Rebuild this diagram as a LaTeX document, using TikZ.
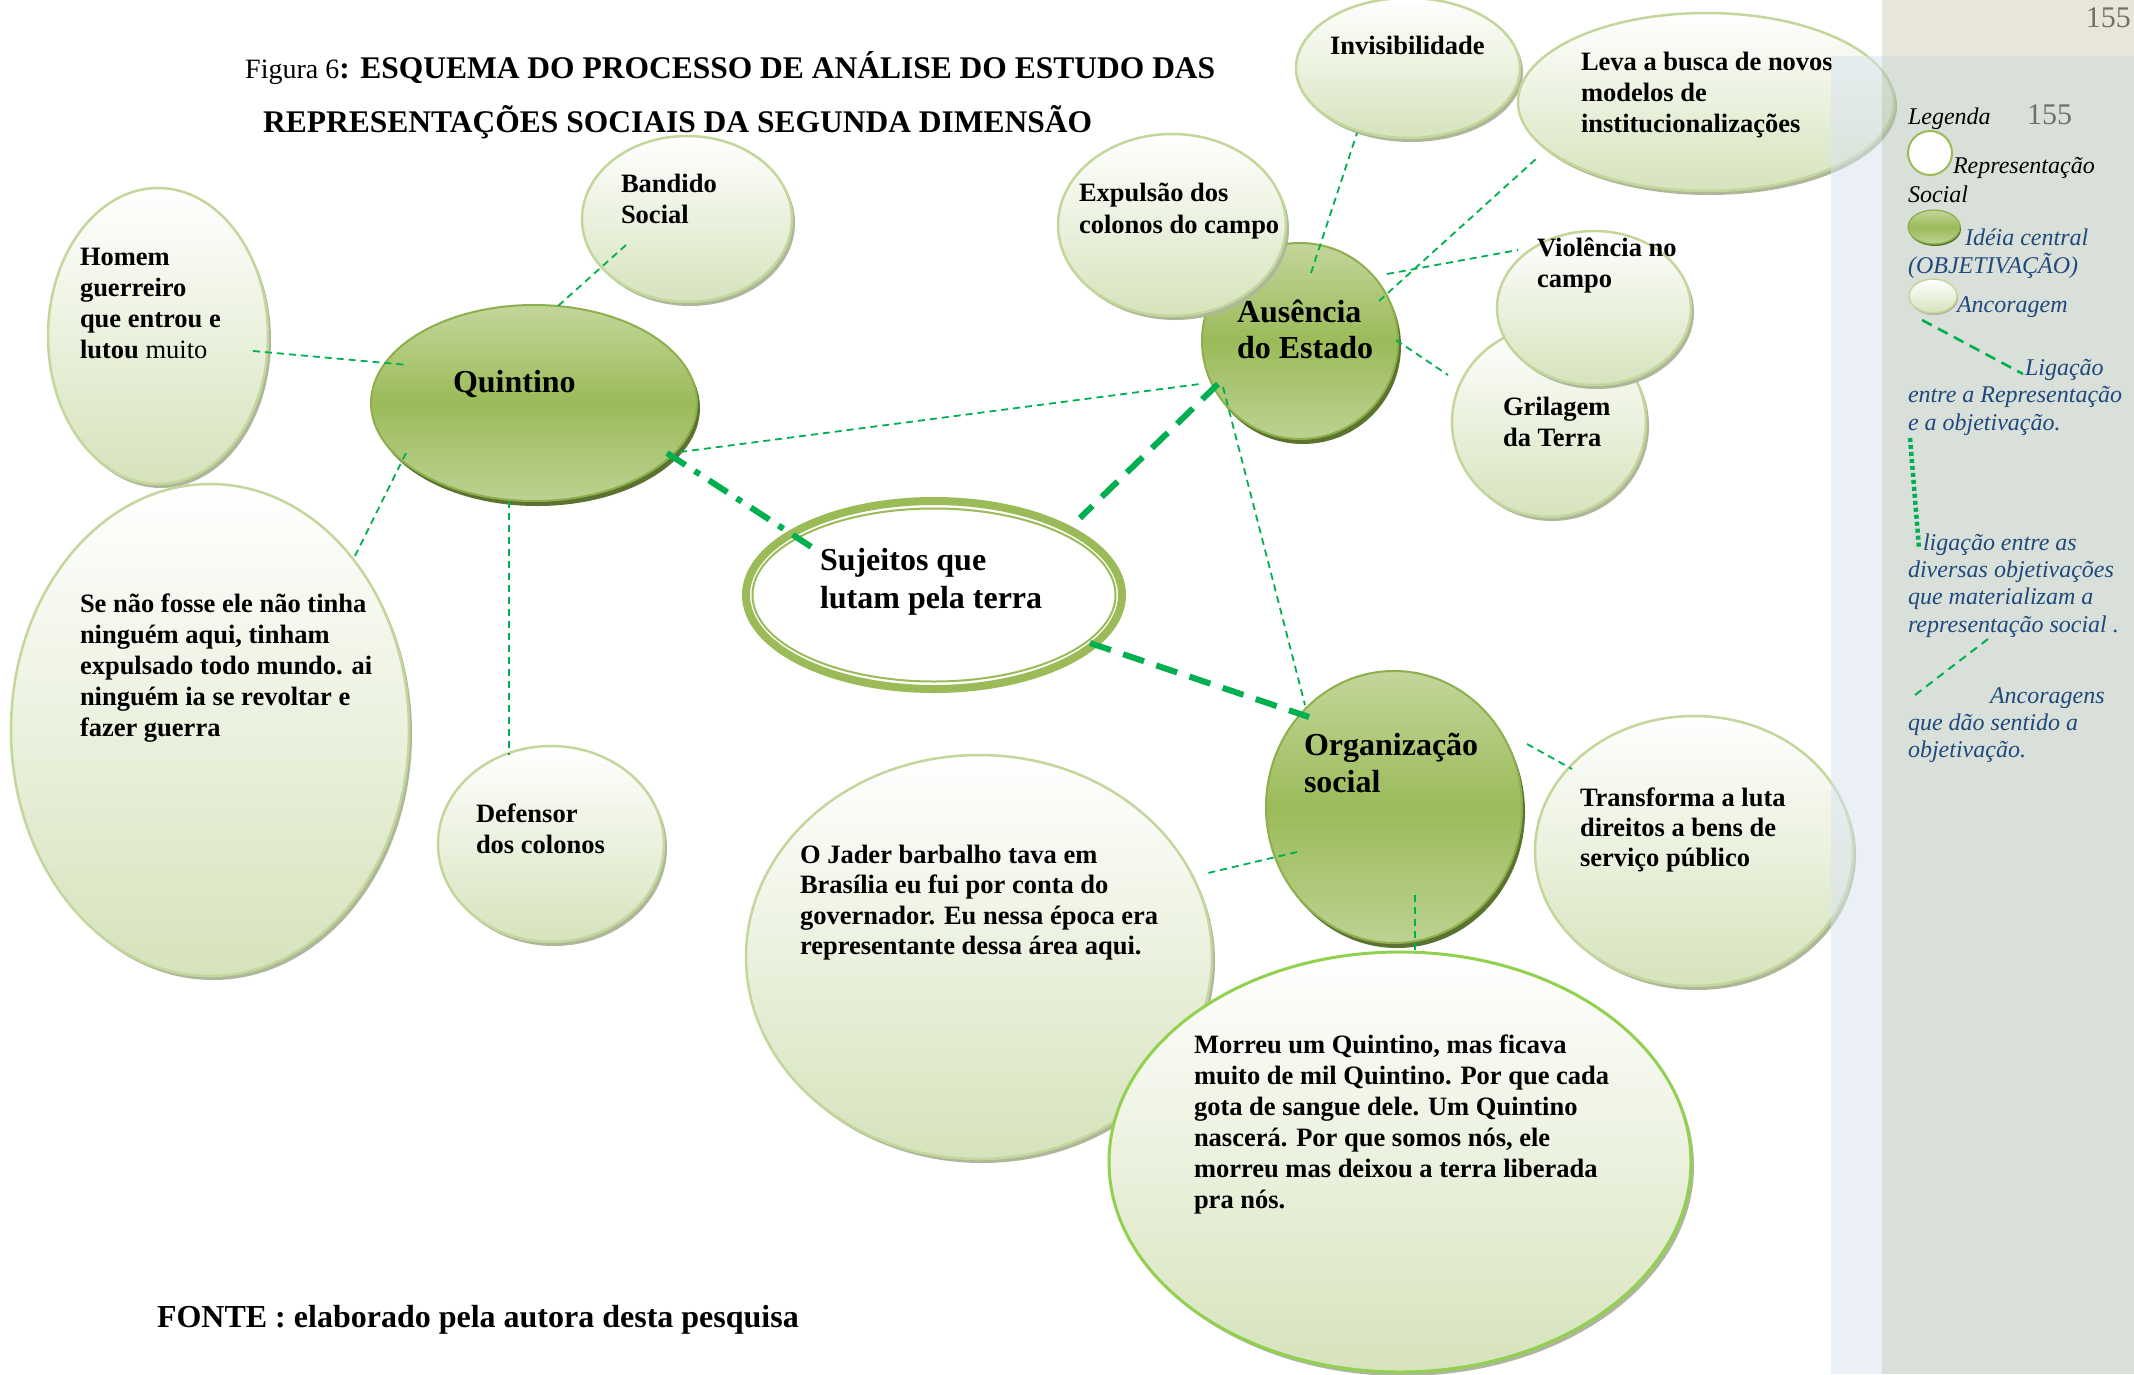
\documentclass[tikz,border=0pt]{standalone}
\usepackage{fontspec}
\setmainfont{Liberation Serif}
\usetikzlibrary{shapes.geometric}

\definecolor{lnk}{HTML}{00B050}
\definecolor{ancBot}{HTML}{D6E3BC}
\definecolor{ancLine}{HTML}{C3D69B}
\definecolor{ancShadow}{HTML}{AEB79A}
\definecolor{objTop}{HTML}{C3D69B}
\definecolor{objMid}{HTML}{9BBB59}
\definecolor{objBot}{HTML}{BCD292}
\definecolor{objLine}{HTML}{8DAF4C}
\definecolor{objShadow}{HTML}{5B7330}
\definecolor{morLine}{HTML}{92D050}
\definecolor{legBlue}{HTML}{1F497D}
\definecolor{pgGrey}{HTML}{707068}
\definecolor{beige}{HTML}{E8E6DA}
\definecolor{stripBlue}{HTML}{D9E3F1}
\definecolor{panelGrey}{HTML}{B5C1B5}

\newcommand\stk[2]{\vtop{\baselineskip=#1pt\lineskiplimit=-1000pt\lineskip=0pt\let\\\cr\halign{##\hfil\cr#2\crcr}}}

\begin{document}
\begin{tikzpicture}[x=1pt,y=-1pt,
  anc/.style={ellipse, inner sep=0pt, draw=ancLine, line width=2.5pt, top color=white, bottom color=ancBot,
    preaction={fill=ancShadow, transform canvas={shift={(3pt,-4pt)}}}},
  mor/.style={anc, draw=morLine, line width=3pt},
  obj/.style={ellipse, inner sep=0pt, draw=objLine, line width=2pt, top color=objTop, bottom color=objBot, middle color=objMid,
    preaction={fill=objShadow, transform canvas={shift={(3pt,-5pt)}}}},
  objsmall/.style={ellipse, inner sep=0pt, draw=objLine, line width=1.2pt, top color=objTop, bottom color=objBot, middle color=objMid,
    preaction={fill=objShadow, transform canvas={shift={(1pt,-2pt)}}}},
  ancsmall/.style={ellipse, inner sep=0pt, draw=ancLine, line width=1.5pt, top color=white, bottom color=ancBot,
    preaction={fill=ancShadow, transform canvas={shift={(1pt,-2pt)}}}},
  txt/.style={anchor=base west, inner sep=0pt, outer sep=0pt, font=\fontsize{26.5}{31}\selectfont\bfseries},
  bigtxt/.style={anchor=base west, inner sep=0pt, outer sep=0pt, font=\fontsize{32}{38}\selectfont\bfseries},
  leg/.style={anchor=base west, inner sep=0pt, outer sep=0pt, font=\fontsize{24}{27.5}\selectfont\itshape, text=legBlue},
  lnkthin/.style={draw=lnk, line width=1.8pt, dash pattern=on 7pt off 5pt},
  lnkthick/.style={draw=lnk, line width=6pt, dash pattern=on 22pt off 13pt},
  lnkdd/.style={draw=lnk, line width=6pt, dash pattern=on 22pt off 11pt on 6pt off 11pt},
]
\useasboundingbox (0,0) rectangle (2134,1374);
\fill[white] (0,0) rectangle (2134,1374);

% ---------- title ----------
\node[anchor=base west, inner sep=0pt, font=\fontsize{28}{32}\selectfont] (title1) at (245,78)
  {Figura 6{\fontsize{31.5}{36}\selectfont\bfseries: ESQUEMA DO PROCESSO DE ANÁLISE DO ESTUDO DAS}};
\node[anchor=base west, inner sep=0pt, font=\fontsize{31.5}{36}\selectfont\bfseries] (title2) at (263,132)
  {REPRESENTAÇÕES SOCIAIS DA SEGUNDA DIMENSÃO};

% ---------- shapes ----------
\node[anc, minimum width=220, minimum height=296] (homem) at (158,336) {};
\node[anc, minimum width=398, minimum height=492] (senao) at (210,730) {};
\node[anc, minimum width=210, minimum height=166] (bandido) at (687,219) {};
\node[obj, minimum width=326, minimum height=196] (quintino) at (534,403) {};
\node[anc, minimum width=226, minimum height=196] (defensor) at (551,844) {};
\node[ellipse, inner sep=0pt, draw=objMid, line width=8pt, fill=white, minimum width=376, minimum height=188] (sujeitos) at (934,595) {};
\draw[objMid, line width=2pt] (sujeitos.center) ellipse [x radius=181.5pt, y radius=86.5pt];
\node[anc, minimum width=466, minimum height=404] (jader) at (979,957) {};
\node[mor, minimum width=582, minimum height=420] (morreu) at (1400,1162) {};
\node[obj, minimum width=256, minimum height=272] (organiz) at (1394,807) {};
\node[anc, minimum width=318, minimum height=270] (transf) at (1694,851) {};
\node[obj, minimum width=196, minimum height=196] (ausencia) at (1300,341) {};
\node[anc, minimum width=228, minimum height=182] (expulsao) at (1172,225) {};
\node[anc, minimum width=224, minimum height=140] (invis) at (1408,68) {};
\node[anc, minimum width=376, minimum height=178] (leva) at (1706,102) {};
\node[anc, minimum width=194, minimum height=190] (grilagem) at (1549,422) {};
\node[anc, minimum width=194, minimum height=154] (violencia) at (1594,308) {};

% ---------- connectors ----------
\draw[lnkthin] ([shift={(95,15)}]homem.center) -- ([shift={(-126,-38)}]quintino.center);
\draw[lnkthin] ([shift={(-61,26)}]bandido.center) -- ([shift={(24,-97)}]quintino.center);
\draw[lnkthin] ([shift={(-128,50)}]quintino.center) -- ([shift={(144,-172)}]senao.center);
\draw[lnkthin] ([shift={(-25,98)}]quintino.center) -- ([shift={(-42,-89)}]defensor.center);
\draw[lnkthin] ([shift={(146,49)}]quintino.center) -- ([shift={(-100,43)}]ausencia.center);
\draw[lnkthin] ([shift={(11,-68)}]ausencia.center) -- ([shift={(-51,65)}]invis.center);
\draw[lnkthin] ([shift={(79,-40)}]ausencia.center) -- ([shift={(-169,56)}]leva.center);
\draw[lnkthin] ([shift={(87,-67)}]ausencia.center) -- ([shift={(-76,-58)}]violencia.center);
\draw[lnkthin] ([shift={(96,-1)}]ausencia.center) -- ([shift={(-101,-47)}]grilagem.center);
\draw[lnkthin] ([shift={(-77,46)}]ausencia.center) -- ([shift={(-89,-102)}]organiz.center);
\draw[lnkthin] ([shift={(133,-63)}]organiz.center) -- ([shift={(-122,-82)}]transf.center);
\draw[lnkthin] ([shift={(-97,45)}]organiz.center) -- ([shift={(229,-84)}]jader.center);
\draw[lnkthin] ([shift={(21,88)}]organiz.center) -- ([shift={(15,-208)}]morreu.center);
\draw[lnkdd] ([shift={(133,50)}]quintino.center) -- ([shift={(-121,-47)}]sujeitos.center);
\draw[lnkthick] ([shift={(-82,43)}]ausencia.center) -- ([shift={(146,-77)}]sujeitos.center);
\draw[lnkthick] ([shift={(156,48)}]sujeitos.center) -- ([shift={(-85,-90)}]organiz.center);

% ---------- texts ----------
\node[txt] (t-homem) at (80,265) {\stk{31}{Homem\\guerreiro\\que entrou e\\lutou {\mdseries muito}}};
\node[txt] (t-senao) at (80,612) {\stk{31}{Se não fosse ele não tinha\\ninguém aqui, tinham\\expulsado todo mundo. ai\\ninguém ia se revoltar e\\fazer guerra}};
\node[txt] (t-bandido) at (621,192) {\stk{31}{Bandido\\Social}};
\node[bigtxt] (t-quintino) at (453,392) {Quintino};
\node[txt] (t-defensor) at (476,822) {\stk{31}{Defensor\\dos colonos}};
\node[bigtxt] (t-sujeitos) at (820,570) {\stk{38}{Sujeitos que\\lutam pela terra}};
\node[bigtxt] (t-ausencia) at (1237,322) {\stk{36}{Ausência\\do Estado}};
\node[txt] (t-expulsao) at (1079,201) {\stk{32}{Expulsão dos\\colonos do campo}};
\node[txt] (t-invis) at (1330,54) {Invisibilidade};
\node[txt] (t-leva) at (1581,70) {\stk{31}{Leva a busca de novos\\modelos de\\institucionalizações}};
\node[txt] (t-violencia) at (1537,256) {\stk{31}{Violência no\\campo}};
\node[txt] (t-grilagem) at (1503,415) {\stk{31}{Grilagem\\da Terra}};
\node[bigtxt] (t-organiz) at (1304,755) {\stk{37}{Organização\\social}};
\node[txt] (t-transf) at (1580,806) {\stk{30}{Transforma a luta\\direitos a bens de\\serviço público}};
\node[txt] (t-jader) at (800,863) {\stk{30.5}{O Jader barbalho tava em\\Brasília eu fui por conta do\\governador. Eu nessa época era\\representante dessa área aqui.}};
\node[txt] (t-morreu) at (1194,1053) {\stk{31}{Morreu um Quintino, mas ficava\\muito de mil Quintino. Por que cada\\gota de sangue dele. Um Quintino\\nascerá. Por que somos nós, ele\\morreu mas deixou a terra liberada\\pra nós.}};
\node[bigtxt] (t-fonte) at (157,1327) {FONTE : elaborado pela autora desta pesquisa};

% ---------- right panel ----------
\fill[beige] (1882,0) rectangle (2134,56);
\fill[stripBlue, fill opacity=0.5] (1831,56) rectangle (1882,1374);
\fill[panelGrey, fill opacity=0.5] (1882,56) rectangle (2134,1374);
\node[anchor=base east, inner sep=0pt, font=\fontsize{30}{34}\selectfont, text=pgGrey] (pg1) at (2131,27) {155};

% ---------- legend ----------
\node[leg, text=black] (lg-t0) at (1908,124) {Legenda};
\node[anchor=base west, inner sep=0pt, font=\fontsize{30}{34}\selectfont, text=pgGrey] (pg2) at (2027,124) {155};
\node[circle, draw=objMid, line width=2pt, fill=white, minimum size=44, inner sep=0pt] (lg-rep) at (1930,153) {};
\node[leg, text=black] (lg-t1) at (1908,173) {\stk{29}{\hskip45pt Representação\\Social}};
\node[objsmall, minimum width=52, minimum height=34] (lg-obj) at (1934,227) {};
\node[leg] (lg-t2) at (1908,245) {\stk{28}{\hskip57pt Idéia central\\(OBJETIVAÇÃO)}};
\node[ancsmall, minimum width=48, minimum height=34] (lg-anc) at (1933,296) {};
\node[leg] (lg-t3) at (1957,312) {Ancoragem};
\coordinate (lg-a1) at (1922,320);
\coordinate (lg-a2) at (2023,374);
\draw[draw=lnk, line width=2.6pt, dash pattern=on 11pt off 7pt] (lg-a1) -- (lg-a2);
\node[leg] (lg-t4) at (1908,375) {\stk{27.5}{\hskip117pt Ligação\\entre a Representação\\e a objetivação.}};
\coordinate (lg-b1) at (1910,438);
\coordinate (lg-b2) at (1919,548);
\draw[draw=lnk, line width=4.5pt, dash pattern=on 4pt off 3pt] (lg-b1) -- (lg-b2);
\node[leg] (lg-t5) at (1908,550) {\stk{27.4}{\hskip15pt ligação entre as\\diversas objetivações\\que materializam a\\representação social .}};
\coordinate (lg-c1) at (1915,695);
\coordinate (lg-c2) at (1988,639);
\draw[draw=lnk, line width=2pt, dash pattern=on 8pt off 6pt] (lg-c1) -- (lg-c2);
\node[leg] (lg-t6) at (1908,703) {\stk{27}{\hskip82pt Ancoragens\\que dão sentido a\\objetivação.}};
\end{tikzpicture}
\end{document}
